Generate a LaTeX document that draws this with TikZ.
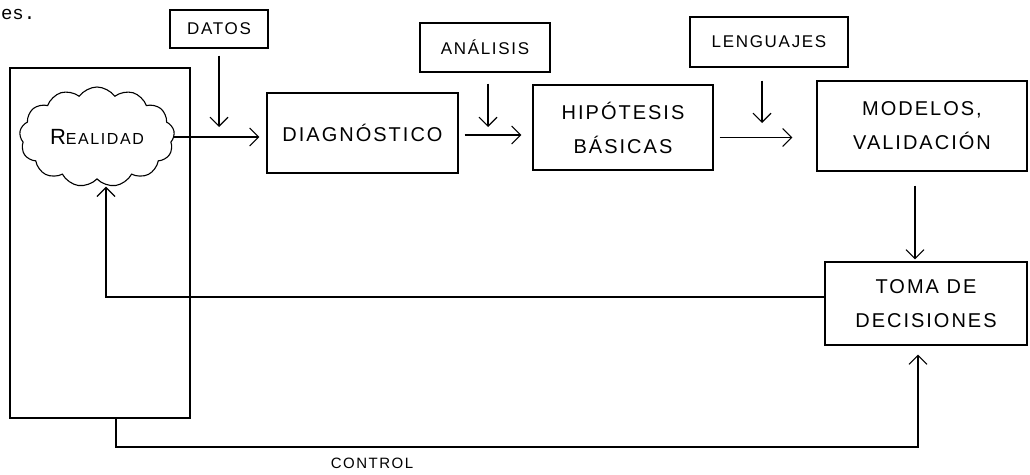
\documentclass[tikz,border=0pt]{standalone}
\usepackage{fontspec}
\usetikzlibrary{arrows.meta,shapes.symbols}
\newfontfamily\hand[LetterSpace=10]{Liberation Sans}
\newfontfamily\typew{Liberation Mono}
\begin{document}
\begin{tikzpicture}[x=1pt,y=-1pt,
  line width=1.1pt,
  box/.style={draw, rectangle, inner sep=0pt, align=center, font=\hand\fontsize{20}{34}\selectfont},
  tagbox/.style={draw, rectangle, inner sep=0pt, font=\hand\fontsize{17}{17}\selectfont},
  arr/.style={-{Straight Barb[length=9pt,width=18pt,line width=1.1pt]}}]
\useasboundingbox (0,0) rectangle (1030,474);
% stray text from preceding line
\node[anchor=base west, inner sep=0pt, font=\typew\fontsize{19}{19}\selectfont] (es) at (0.5,19) {es.};
% boxes
\node[draw, rectangle, minimum width=180pt, minimum height=350pt] (bigbox) at (100,243) {};
\node[draw, cloud, cloud puffs=13, cloud puff arc=110, cloud ignores aspect, minimum width=155pt, minimum height=100pt, inner sep=0pt, font=\hand] (cloud) at (97,137)
  {{\fontsize{22}{22}\selectfont R}{\fontsize{16}{16}\selectfont EALIDAD}};
\node[tagbox, minimum width=98pt, minimum height=38pt] (datos) at (219,29) {DATOS};
\node[tagbox, minimum width=130pt, minimum height=49pt] (ana) at (485,47.5) {ANÁLISIS};
\node[tagbox, minimum width=158pt, minimum height=50pt] (leng) at (769,42) {LENGUAJES};
\node[box, minimum width=191pt, minimum height=80pt] (diag) at (362.5,133) {DIAGNÓSTICO};
\node[box, minimum width=180pt, minimum height=85pt] (hip) at (623,127.5) {HIPÓTESIS\\BÁSICAS};
\node[box, minimum width=210pt, minimum height=90pt] (model) at (922,126) {MODELOS,\\VALIDACIÓN};
\node[box, minimum width=202pt, minimum height=83pt] (toma) at (926,303.5) {TOMA DE\\DECISIONES};
\node[inner sep=0pt, font=\hand\fontsize{15}{15}\selectfont] (control) at (372,463) {CONTROL};
% helper coordinates
\coordinate (dtip) at (218,127);
\coordinate (ltip) at (762,123);
\coordinate (fb) at (106,297);
\coordinate (c1) at (116,447);
% connectors
\draw[arr, shorten >=7pt] (cloud.east) -- (cloud.east -| diag.west);
\draw[arr, shorten <=6pt, shorten >=11pt] ([yshift=-2pt]diag.east) -- ([yshift=-2pt]diag.east -| hip.west);
\draw[arr, shorten <=6pt, shorten >=24pt] ([yshift=-10pt]hip.east) -- ([yshift=-10pt]hip.east -| model.west);
\draw[arr, shorten <=7pt] (datos.south) -- (datos.south |- dtip);
\draw[arr, shorten <=11pt] ([xshift=3pt]ana.south) -- ([xshift=3pt]ana.south |- dtip);
\draw[arr, shorten <=13pt] ([xshift=-7pt]leng.south) -- ([xshift=-7pt]leng.south |- ltip);
\draw[arr, shorten <=14pt, shorten >=2pt] ([xshift=-7pt]model.south) -- ([xshift=-7pt]model.south |- toma.north);
\draw[arr, shorten >=7pt] (toma.west |- fb) -- (fb) -- (fb |- cloud.south);
\draw[arr, shorten >=9pt] (bigbox.south -| c1) -- (c1) -| ([xshift=-8pt]toma.south);
\end{tikzpicture}
\end{document}
